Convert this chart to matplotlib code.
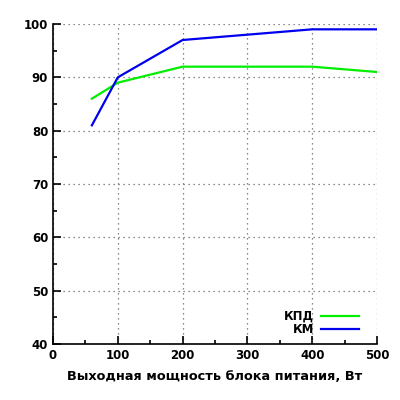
import matplotlib
matplotlib.use("Agg")
import matplotlib.pyplot as plt
from matplotlib.ticker import MultipleLocator

power_w = [60, 100, 200, 400, 500]
kpd = [86, 89, 92, 92, 91]
km = [81, 90, 97, 99, 99]

plt.rcParams['font.family'] = ['DejaVu Sans']
plt.rcParams['font.weight'] = 'bold'

fig = plt.figure(figsize=(4, 4), dpi=100)
ax = fig.add_axes([0.1325, 0.14, 0.81, 0.80])

ax.plot(power_w, kpd, color='#00ee00', lw=1.6, label='КПД')
ax.plot(power_w, km, color='#0000ee', lw=1.6, label='КМ')

ax.set_xlim(0, 500)
ax.set_ylim(40, 100)
ax.xaxis.set_major_locator(MultipleLocator(100))
ax.xaxis.set_minor_locator(MultipleLocator(50))
ax.yaxis.set_major_locator(MultipleLocator(10))
ax.yaxis.set_minor_locator(MultipleLocator(5))

ax.grid(True, which='major', linestyle=(0, (1, 3)), color='#666666', lw=0.9)
for s in ['top', 'right']:
    ax.spines[s].set_visible(False)
ax.spines['left'].set_linewidth(1.2)
ax.spines['bottom'].set_linewidth(1.2)
ax.tick_params(which='major', direction='in', length=6, width=1.2, labelsize=8.5)
ax.tick_params(which='minor', direction='in', length=3, width=1.2)
for lbl in ax.get_xticklabels() + ax.get_yticklabels():
    lbl.set_fontweight('bold')

ax.set_xlabel('Выходная мощность блока питания, Вт', fontsize=9.3, fontweight='bold', labelpad=6)

ax.legend(loc='lower right', bbox_to_anchor=(0.97, 0.0), frameon=False, markerfirst=False,
          handlelength=3.2, labelspacing=0.0, borderaxespad=0.3,
          handletextpad=0.6, prop={'weight': 'bold', 'size': 8.5})

fig.savefig('out.png', dpi=100)
